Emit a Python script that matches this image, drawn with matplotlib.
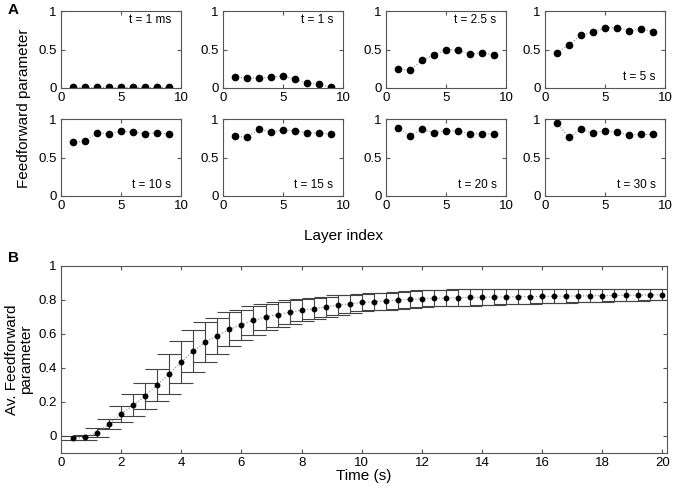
import numpy as np
import matplotlib
matplotlib.use("Agg")
import matplotlib.pyplot as plt

plt.rcParams['font.family'] = ['Liberation Sans', 'DejaVu Sans']

# Panel A: feedforward parameter per layer at several times
layers = [1, 2, 3, 4, 5, 6, 7, 8, 9]
snap_labels = ['t = 1 ms', 't = 1 s', 't = 2.5 s', 't = 5 s',
               't = 10 s', 't = 15 s', 't = 20 s', 't = 30 s']
ff_1ms = [0.01, 0.01, 0.01, 0.01, 0.01, 0.01, 0.01, 0.01, 0.01]
ff_1s = [0.145, 0.13, 0.13, 0.14, 0.155, 0.115, 0.06, 0.05, 0.01]
ff_2p5s = [0.245, 0.23, 0.36, 0.43, 0.50, 0.49, 0.44, 0.46, 0.43]
ff_5s = [0.46, 0.56, 0.69, 0.725, 0.78, 0.785, 0.745, 0.77, 0.73]
ff_10s = [0.70, 0.71, 0.82, 0.81, 0.84, 0.83, 0.81, 0.82, 0.805]
ff_15s = [0.78, 0.76, 0.87, 0.83, 0.86, 0.85, 0.82, 0.82, 0.81]
ff_20s = [0.88, 0.785, 0.865, 0.82, 0.85, 0.84, 0.81, 0.81, 0.805]
ff_30s = [0.95, 0.76, 0.87, 0.815, 0.85, 0.825, 0.795, 0.80, 0.80]
snap_values = [ff_1ms, ff_1s, ff_2p5s, ff_5s, ff_10s, ff_15s, ff_20s, ff_30s]
label_on_top = [True, True, True, False, False, False, False, False]

# Panel B: layer-averaged feedforward parameter over time
time_s = np.round(np.arange(1, 51) * 0.4, 1)
av_ff = [-0.012, -0.008, 0.02, 0.07, 0.13, 0.18, 0.235, 0.30, 0.365, 0.435,
         0.50, 0.553, 0.59, 0.627, 0.654, 0.68, 0.70, 0.714, 0.728, 0.74,
         0.75, 0.76, 0.77, 0.777, 0.786, 0.79, 0.794, 0.80, 0.804, 0.808,
         0.81, 0.812, 0.814, 0.815, 0.816, 0.817, 0.818, 0.819, 0.82, 0.821,
         0.822, 0.823, 0.824, 0.825, 0.826, 0.827, 0.828, 0.829, 0.83, 0.831]
av_err = [0.012, 0.015, 0.025, 0.03, 0.045, 0.065, 0.075, 0.097, 0.115, 0.125,
          0.122, 0.117, 0.107, 0.10, 0.09, 0.086, 0.078, 0.073, 0.07, 0.065,
          0.063, 0.058, 0.057, 0.053, 0.052, 0.05, 0.05, 0.05, 0.049, 0.049,
          0.048, 0.048, 0.048, 0.048, 0.046, 0.045, 0.044, 0.043, 0.042, 0.041,
          0.04, 0.039, 0.038, 0.037, 0.036, 0.035, 0.034, 0.033, 0.032, 0.031]

spine_col = '#555555'


def matlab_style(ax):
    for s in ax.spines.values():
        s.set_color(spine_col)
        s.set_linewidth(0.8)
    ax.tick_params(direction='in', top=True, right=True, length=3,
                   width=0.8, color=spine_col, labelsize=9.5, pad=3)


fig = plt.figure(figsize=(6.8, 4.91), dpi=100)
W, H = 680.0, 491.0

col_left = [61, 223, 386, 545]
row_top = [11, 119]
aw, ah = 120, 77

for i, (vals, lab) in enumerate(zip(snap_values, snap_labels)):
    r, c = divmod(i, 4)
    ax = fig.add_axes([col_left[c] / W, 1 - (row_top[r] + ah) / H, aw / W, ah / H])
    ax.plot(layers, vals, linestyle=':', color='#888888', linewidth=0.8,
            marker='o', markersize=4.5, markerfacecolor='black',
            markeredgecolor='black')
    ax.set_xlim(0, 10)
    ax.set_ylim(0, 1)
    ax.set_xticks([0, 5, 10])
    ax.set_yticks([0, 0.5, 1])
    ax.set_yticklabels(['0', '0.5', '1'])
    matlab_style(ax)
    if label_on_top[i]:
        ax.text(0.92, 0.96, lab, transform=ax.transAxes, ha='right', va='top', fontsize=8.5)
    else:
        ax.text(0.92, 0.07, lab, transform=ax.transAxes, ha='right', va='bottom', fontsize=8.5)

fig.text(24 / W, 1 - 108 / H, 'Feedforward parameter', rotation=90,
         ha='center', va='center', fontsize=11)
fig.text(343 / W, 1 - 236 / H, 'Layer index', ha='center', va='center', fontsize=11)
fig.text(13 / W, 1 - 10 / H, 'A', ha='center', va='center', fontsize=11, fontweight='bold')
fig.text(13 / W, 1 - 258 / H, 'B', ha='center', va='center', fontsize=11, fontweight='bold')

axb = fig.add_axes([61 / W, 1 - 453 / H, 606 / W, 187 / H])
av_ff = np.array(av_ff)
av_err = np.array(av_err)
axb.vlines(time_s, av_ff - av_err, av_ff + av_err, color='#444444', linewidth=0.8)
axb.hlines(av_ff + av_err, time_s - 0.4, time_s + 0.4, color='#444444', linewidth=0.8)
axb.hlines(av_ff - av_err, time_s - 0.4, time_s + 0.4, color='#444444', linewidth=0.8)
axb.plot(time_s, av_ff, linestyle=':', color='#888888', linewidth=0.8,
         marker='o', markersize=3.2, markerfacecolor='black', markeredgecolor='black')
axb.set_xlim(0, 20.15)
axb.set_ylim(-0.1, 1)
axb.set_xticks(np.arange(0, 21, 2))
axb.set_yticks([0, 0.2, 0.4, 0.6, 0.8, 1])
axb.set_yticklabels(['0', '0.2', '0.4', '0.6', '0.8', '1'])
matlab_style(axb)
axb.set_xlabel('Time (s)', fontsize=11, labelpad=0)
axb.set_ylabel('Av. Feedforward\nparameter', fontsize=11, labelpad=4, linespacing=1.0)

fig.savefig('out.png', dpi=100)
